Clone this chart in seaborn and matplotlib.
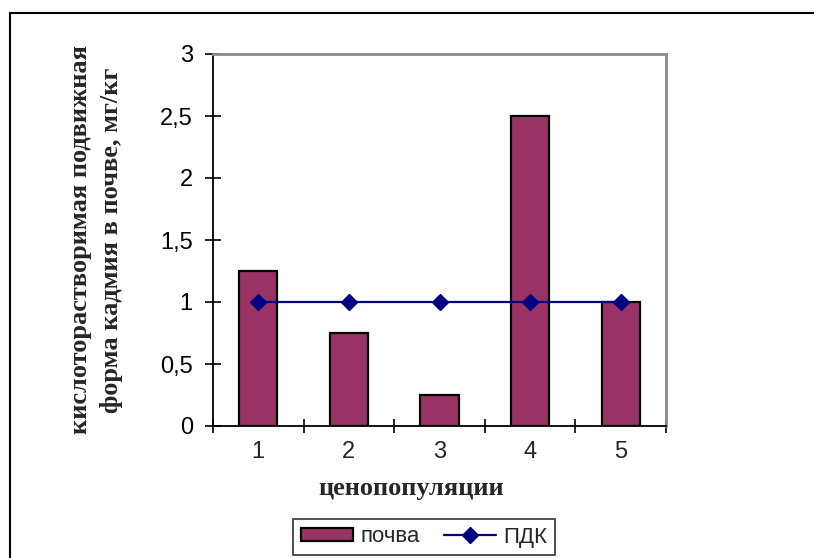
import matplotlib
matplotlib.use("Agg")
import matplotlib.pyplot as plt
import seaborn as sns
import pandas as pd
from matplotlib.patches import Rectangle

categories = ["1", "2", "3", "4", "5"]
soil = [1.25, 0.75, 0.25, 2.5, 1.0]
pdk = [1, 1, 1, 1, 1]
yticks = [0, 0.5, 1, 1.5, 2, 2.5, 3]
ytick_labels = ["0", "0,5", "1", "1,5", "2", "2,5", "3"]

sns.set_theme(style="white")
plt.rcParams['font.family'] = ['Liberation Sans', 'DejaVu Sans']

fig = plt.figure(figsize=(8.14, 5.58), dpi=100)
ax = fig.add_axes([213/814, 1-426/558, (666-213)/814, (426-54)/558])

df = pd.DataFrame({"cat": categories, "val": soil})
sns.barplot(data=df, x="cat", y="val", color="#993366", saturation=1,
            width=0.42, edgecolor="black", linewidth=1.6, ax=ax, label="почва")
ax.plot(range(len(categories)), pdk, color="#000080", marker="D",
        markersize=8, linewidth=1.6, label="ПДК")

ax.set_xlim(-0.5, 4.5)
ax.set_ylim(0, 3)
ax.set_yticks(yticks)
ax.set_yticklabels(ytick_labels, fontsize=17)
ax.set_xticks([i - 0.5 for i in range(len(categories) + 1)])
ax.set_xticklabels([])
ax.set_xticks(range(len(categories)), minor=True)
ax.set_xticklabels(categories, minor=True, fontsize=17)
ax.tick_params(axis="x", which="major", bottom=True, direction="inout", length=10, width=1.2, colors="black")
ax.tick_params(axis="x", which="minor", bottom=True, length=0, pad=11)
ax.tick_params(axis="y", left=True, direction="inout", length=11, width=1.2, pad=9, colors="black")
ax.tick_params(labelcolor="black")

for s in ["left", "bottom"]:
    ax.spines[s].set_color("black")
    ax.spines[s].set_linewidth(1.3)
for s in ["top", "right"]:
    ax.spines[s].set_color("#8c8c8c")
    ax.spines[s].set_linewidth(2)

ax.set_xlabel("ценопопуляции", fontsize=19, fontweight="bold",
              family=["Liberation Serif", "DejaVu Serif"])
ax.xaxis.set_label_coords((411-213)/453, -(489-426)/372)
ax.xaxis.label.set_va("center")
ax.set_ylabel("кислоторастворимая подвижная\nформа кадмия в почве, мг/кг", fontsize=19,
              fontweight="bold", family=["Liberation Serif", "DejaVu Serif"],
              linespacing=1.45)
ax.yaxis.set_label_coords((96-213)/453, 0.5)
ax.yaxis.label.set_va("center")

handles, labels = ax.get_legend_handles_labels()
order = [labels.index("почва"), labels.index("ПДК")]
leg = ax.legend([handles[i] for i in order], [labels[i] for i in order],
                loc="center", bbox_to_anchor=((424-213)/453, -(537-426)/372), ncol=2,
                fontsize=16, frameon=True, fancybox=False, edgecolor="black",
                handlelength=2.35, handletextpad=0.3, columnspacing=1.1, borderpad=0.35,
                handleheight=0.55)
leg.get_frame().set_linewidth(1.2)

fig.patches.append(Rectangle((10/814, -0.1), 1.0, 1-13/558 + 0.1, transform=fig.transFigure,
                             fill=False, edgecolor="black", linewidth=1.5))

fig.savefig("out.png", dpi=100)
